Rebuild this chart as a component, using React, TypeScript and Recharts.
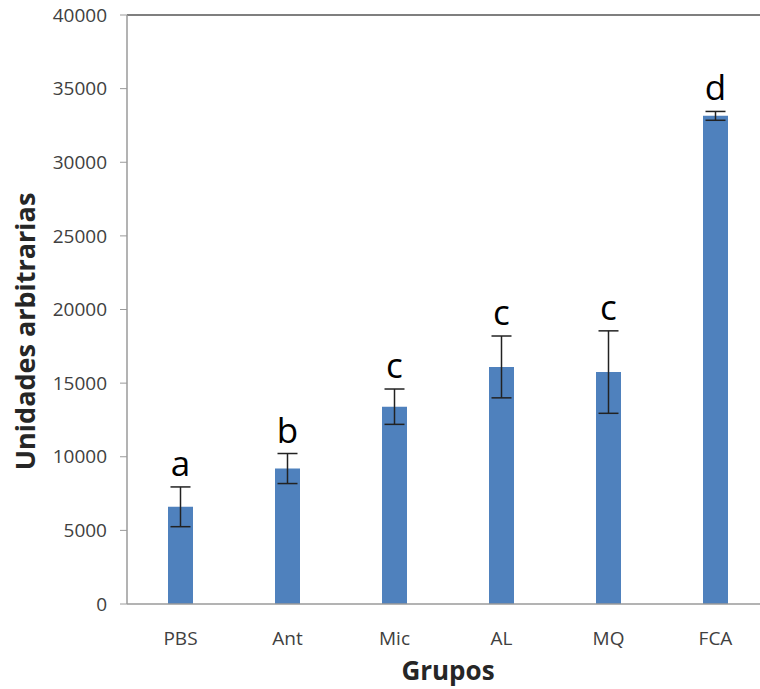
import { BarChart, Bar, XAxis, YAxis, ErrorBar, LabelList, ReferenceLine } from 'recharts'

const grupos = ['PBS', 'Ant', 'Mic', 'AL', 'MQ', 'FCA']
const valores = [6600, 9200, 13400, 16100, 15750, 33150]
const errores = [1350, 1020, 1200, 2100, 2800, 300]
const letras = ['a', 'b', 'c', 'c', 'c', 'd']
const yTicks = [0, 5000, 10000, 15000, 20000, 25000, 30000, 35000, 40000]

const data = grupos.map((g, i) => ({ grupo: g, valor: valores[i], err: errores[i], letra: letras[i] }))

const FONT = "'Open Sans', 'DejaVu Sans', sans-serif"

// letra de significancia por encima de la barra de error
const renderLetra = (props: any) => {
  const { x, y, width, height, index } = props
  const v = valores[index]
  const pxPorUnidad = height / v
  const errTop = y - errores[index] * pxPorUnidad
  return (
    <text
      x={x + width / 2}
      y={errTop - 11}
      textAnchor="middle"
      fontFamily={FONT}
      fontSize={35}
      fill="#000"
    >
      {letras[index]}
    </text>
  )
}

export default function App() {
  return (
    <div style={{ position: 'absolute', left: 0, top: 0, width: 760, height: 689, overflow: 'hidden', background: '#fff' }}>
      <BarChart
        width={770}
        height={689}
        data={data}
        margin={{ top: 15, right: 1, bottom: 0, left: 0 }}
      >
        <XAxis
          dataKey="grupo"
          height={85}
          tickLine={false}
          tickMargin={22}
          axisLine={{ stroke: '#9a9a9a', strokeWidth: 1.5 }}
          tick={{ fontSize: 19, fill: '#404040', fontFamily: FONT }}
          label={{
            value: 'Grupos',
            position: 'insideBottom',
            offset: 9,
            style: { fontSize: 26, fontWeight: 700, fill: '#262626', fontFamily: FONT },
          }}
        />
        <YAxis
          width={127}
          domain={[0, 40000]}
          ticks={yTicks}
          interval={0}
          tickSize={7}
          tickMargin={13}
          tickLine={{ stroke: '#9a9a9a' }}
          axisLine={{ stroke: '#9a9a9a', strokeWidth: 1.5 }}
          tick={{ fontSize: 19, fill: '#404040', fontFamily: FONT }}
          label={{
            value: 'Unidades arbitrarias',
            angle: -90,
            position: 'center',
            dx: -38,
            dy: 22,
            style: { fontSize: 27, fontWeight: 700, fill: '#262626', fontFamily: FONT, textAnchor: 'middle' },
          }}
        />
        <ReferenceLine y={40000} stroke="#555" strokeWidth={1.5} />
        <Bar dataKey="valor" fill="#4F81BD" barSize={25} isAnimationActive={false}>
          <ErrorBar dataKey="err" width={10} stroke="#222" strokeWidth={1.5} />
          <LabelList dataKey="letra" content={renderLetra} />
        </Bar>
      </BarChart>
    </div>
  )
}
